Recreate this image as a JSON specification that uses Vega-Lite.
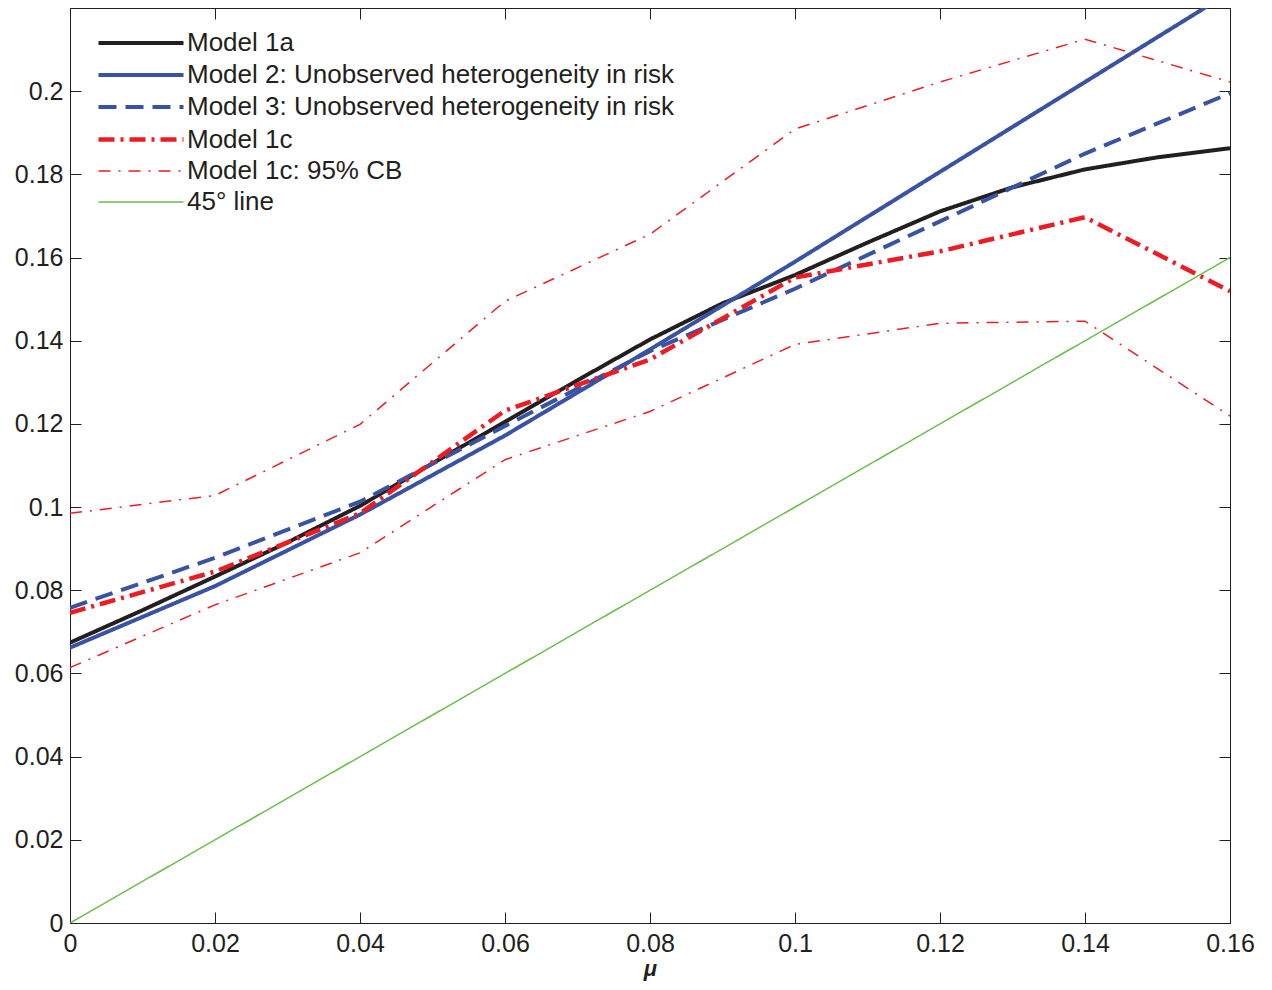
{
  "$schema": "https://vega.github.io/schema/vega-lite/v6.json",
  "autosize": {"type": "none"},
  "width": 1160,
  "height": 915,
  "padding": {"left": 70, "top": 8, "right": 42, "bottom": 67},
  "background": "white",
  "config": {
    "view": {"stroke": "#231f20", "strokeWidth": 1},
    "font": "Liberation Sans",
    "axis": {
      "domainColor": "#231f20",
      "tickColor": "#231f20",
      "tickSize": -11,
      "grid": false,
      "labelFlush": false,
      "labelFont": "Liberation Sans",
      "labelFontSize": 25,
      "labelColor": "#231f20"
    },
    "legend": {
      "labelFont": "Liberation Sans",
      "labelFontSize": 26,
      "labelColor": "#231f20",
      "labelLimit": 0,
      "symbolType": "M-1,0H4",
      "symbolSize": 1156,
      "labelOffset": 52,
      "rowPadding": 0,
      "padding": 0
    }
  },
  "data": {
    "values": [
      {"x": 0.00, "y": 0.0674, "series": "Model 1a", "band": "a"},
      {"x": 0.01, "y": 0.0752, "series": "Model 1a", "band": "a"},
      {"x": 0.02, "y": 0.0833, "series": "Model 1a", "band": "a"},
      {"x": 0.03, "y": 0.0915, "series": "Model 1a", "band": "a"},
      {"x": 0.04, "y": 0.1003, "series": "Model 1a", "band": "a"},
      {"x": 0.05, "y": 0.1105, "series": "Model 1a", "band": "a"},
      {"x": 0.06, "y": 0.1205, "series": "Model 1a", "band": "a"},
      {"x": 0.07, "y": 0.1305, "series": "Model 1a", "band": "a"},
      {"x": 0.08, "y": 0.1403, "series": "Model 1a", "band": "a"},
      {"x": 0.09, "y": 0.1490, "series": "Model 1a", "band": "a"},
      {"x": 0.10, "y": 0.1558, "series": "Model 1a", "band": "a"},
      {"x": 0.11, "y": 0.1636, "series": "Model 1a", "band": "a"},
      {"x": 0.12, "y": 0.1711, "series": "Model 1a", "band": "a"},
      {"x": 0.13, "y": 0.1769, "series": "Model 1a", "band": "a"},
      {"x": 0.14, "y": 0.1812, "series": "Model 1a", "band": "a"},
      {"x": 0.15, "y": 0.1841, "series": "Model 1a", "band": "a"},
      {"x": 0.16, "y": 0.1863, "series": "Model 1a", "band": "a"},

      {"x": 0.00, "y": 0.0662, "series": "Model 2: Unobserved heterogeneity in risk", "band": "a"},
      {"x": 0.02, "y": 0.0810, "series": "Model 2: Unobserved heterogeneity in risk", "band": "a"},
      {"x": 0.04, "y": 0.0982, "series": "Model 2: Unobserved heterogeneity in risk", "band": "a"},
      {"x": 0.06, "y": 0.1172, "series": "Model 2: Unobserved heterogeneity in risk", "band": "a"},
      {"x": 0.08, "y": 0.1379, "series": "Model 2: Unobserved heterogeneity in risk", "band": "a"},
      {"x": 0.10, "y": 0.1590, "series": "Model 2: Unobserved heterogeneity in risk", "band": "a"},
      {"x": 0.12, "y": 0.1806, "series": "Model 2: Unobserved heterogeneity in risk", "band": "a"},
      {"x": 0.14, "y": 0.2022, "series": "Model 2: Unobserved heterogeneity in risk", "band": "a"},
      {"x": 0.16, "y": 0.2238, "series": "Model 2: Unobserved heterogeneity in risk", "band": "a"},

      {"x": 0.00, "y": 0.0758, "series": "Model 3: Unobserved heterogeneity in risk", "band": "a"},
      {"x": 0.02, "y": 0.0878, "series": "Model 3: Unobserved heterogeneity in risk", "band": "a"},
      {"x": 0.04, "y": 0.1013, "series": "Model 3: Unobserved heterogeneity in risk", "band": "a"},
      {"x": 0.06, "y": 0.1195, "series": "Model 3: Unobserved heterogeneity in risk", "band": "a"},
      {"x": 0.08, "y": 0.1375, "series": "Model 3: Unobserved heterogeneity in risk", "band": "a"},
      {"x": 0.10, "y": 0.1525, "series": "Model 3: Unobserved heterogeneity in risk", "band": "a"},
      {"x": 0.12, "y": 0.1687, "series": "Model 3: Unobserved heterogeneity in risk", "band": "a"},
      {"x": 0.14, "y": 0.1850, "series": "Model 3: Unobserved heterogeneity in risk", "band": "a"},
      {"x": 0.16, "y": 0.1995, "series": "Model 3: Unobserved heterogeneity in risk", "band": "a"},

      {"x": 0.00, "y": 0.0746, "series": "Model 1c", "band": "a"},
      {"x": 0.02, "y": 0.0845, "series": "Model 1c", "band": "a"},
      {"x": 0.04, "y": 0.0985, "series": "Model 1c", "band": "a"},
      {"x": 0.06, "y": 0.1232, "series": "Model 1c", "band": "a"},
      {"x": 0.08, "y": 0.1355, "series": "Model 1c", "band": "a"},
      {"x": 0.10, "y": 0.1552, "series": "Model 1c", "band": "a"},
      {"x": 0.12, "y": 0.1615, "series": "Model 1c", "band": "a"},
      {"x": 0.14, "y": 0.1697, "series": "Model 1c", "band": "a"},
      {"x": 0.16, "y": 0.1519, "series": "Model 1c", "band": "a"},

      {"x": 0.00, "y": 0.0985, "series": "Model 1c: 95% CB", "band": "upper"},
      {"x": 0.02, "y": 0.1028, "series": "Model 1c: 95% CB", "band": "upper"},
      {"x": 0.04, "y": 0.1199, "series": "Model 1c: 95% CB", "band": "upper"},
      {"x": 0.06, "y": 0.1495, "series": "Model 1c: 95% CB", "band": "upper"},
      {"x": 0.08, "y": 0.1656, "series": "Model 1c: 95% CB", "band": "upper"},
      {"x": 0.10, "y": 0.1909, "series": "Model 1c: 95% CB", "band": "upper"},
      {"x": 0.12, "y": 0.2022, "series": "Model 1c: 95% CB", "band": "upper"},
      {"x": 0.14, "y": 0.2125, "series": "Model 1c: 95% CB", "band": "upper"},
      {"x": 0.16, "y": 0.2022, "series": "Model 1c: 95% CB", "band": "upper"},

      {"x": 0.00, "y": 0.0614, "series": "Model 1c: 95% CB", "band": "lower"},
      {"x": 0.02, "y": 0.0765, "series": "Model 1c: 95% CB", "band": "lower"},
      {"x": 0.04, "y": 0.0890, "series": "Model 1c: 95% CB", "band": "lower"},
      {"x": 0.06, "y": 0.1114, "series": "Model 1c: 95% CB", "band": "lower"},
      {"x": 0.08, "y": 0.1230, "series": "Model 1c: 95% CB", "band": "lower"},
      {"x": 0.10, "y": 0.1391, "series": "Model 1c: 95% CB", "band": "lower"},
      {"x": 0.12, "y": 0.1442, "series": "Model 1c: 95% CB", "band": "lower"},
      {"x": 0.14, "y": 0.1447, "series": "Model 1c: 95% CB", "band": "lower"},
      {"x": 0.16, "y": 0.1219, "series": "Model 1c: 95% CB", "band": "lower"},

      {"x": 0.00, "y": 0.00, "series": "45° line", "band": "a"},
      {"x": 0.16, "y": 0.16, "series": "45° line", "band": "a"}
    ]
  },
  "resolve": {"axis": {"x": "independent", "y": "independent"}},
  "layer": [
    {
      "mark": {"type": "line", "clip": true, "strokeCap": "butt"},
      "encoding": {
        "x": {
          "field": "x", "type": "quantitative",
          "scale": {"domain": [0, 0.16], "nice": false, "zero": false},
          "axis": {
            "orient": "bottom",
            "values": [0, 0.02, 0.04, 0.06, 0.08, 0.1, 0.12, 0.14, 0.16],
            "labelExpr": "format(datum.value, '~g')",
            "labelPadding": 19,
            "title": "μ",
            "titleFont": "Liberation Sans",
            "titleFontSize": 22,
            "titleFontStyle": "italic",
            "titleFontWeight": "bold",
            "titleColor": "#231f20",
            "titlePadding": 2
          }
        },
        "y": {
          "field": "y", "type": "quantitative",
          "scale": {"domain": [0, 0.22], "nice": false, "zero": false},
          "axis": {
            "orient": "left",
            "values": [0, 0.02, 0.04, 0.06, 0.08, 0.1, 0.12, 0.14, 0.16, 0.18, 0.2],
            "labelExpr": "format(datum.value, '~g')",
            "labelPadding": 18,
            "title": null
          }
        },
        "detail": {"field": "band"},
        "color": {
          "field": "series", "type": "nominal",
          "scale": {
            "domain": ["Model 1a", "Model 2: Unobserved heterogeneity in risk", "Model 3: Unobserved heterogeneity in risk", "Model 1c", "Model 1c: 95% CB", "45° line"],
            "range": ["#231f20", "#3953a4", "#3953a4", "#ed1c24", "#ed1c24", "#6abf4b"]
          },
          "legend": {"title": null, "orient": "none", "legendX": 26, "legendY": 16}
        },
        "strokeDash": {
          "field": "series", "type": "nominal",
          "scale": {
            "domain": ["Model 1a", "Model 2: Unobserved heterogeneity in risk", "Model 3: Unobserved heterogeneity in risk", "Model 1c", "Model 1c: 95% CB", "45° line"],
            "range": [[1, 0], [1, 0], [18, 9], [16, 6, 3, 6], [12, 8, 2, 8], [1, 0]]
          },
          "legend": {"title": null, "orient": "none", "legendX": 26, "legendY": 16}
        },
        "strokeWidth": {
          "field": "series", "type": "nominal",
          "scale": {
            "type": "ordinal",
            "domain": ["Model 1a", "Model 2: Unobserved heterogeneity in risk", "Model 3: Unobserved heterogeneity in risk", "Model 1c", "Model 1c: 95% CB", "45° line"],
            "range": [4, 4, 4, 4.5, 1.5, 1.5]
          },
          "legend": {"title": null, "orient": "none", "legendX": 26, "legendY": 16}
        }
      }
    },
    {
      "mark": {"type": "line", "strokeOpacity": 0},
      "transform": [{"filter": "datum.series === '45° line'"}],
      "encoding": {
        "x": {
          "field": "x", "type": "quantitative",
          "axis": {"orient": "top", "values": [0, 0.02, 0.04, 0.06, 0.08, 0.1, 0.12, 0.14, 0.16], "labels": false, "title": null}
        },
        "y": {
          "field": "y", "type": "quantitative",
          "axis": {"orient": "right", "values": [0, 0.02, 0.04, 0.06, 0.08, 0.1, 0.12, 0.14, 0.16, 0.18, 0.2], "labels": false, "title": null}
        }
      }
    }
  ]
}
